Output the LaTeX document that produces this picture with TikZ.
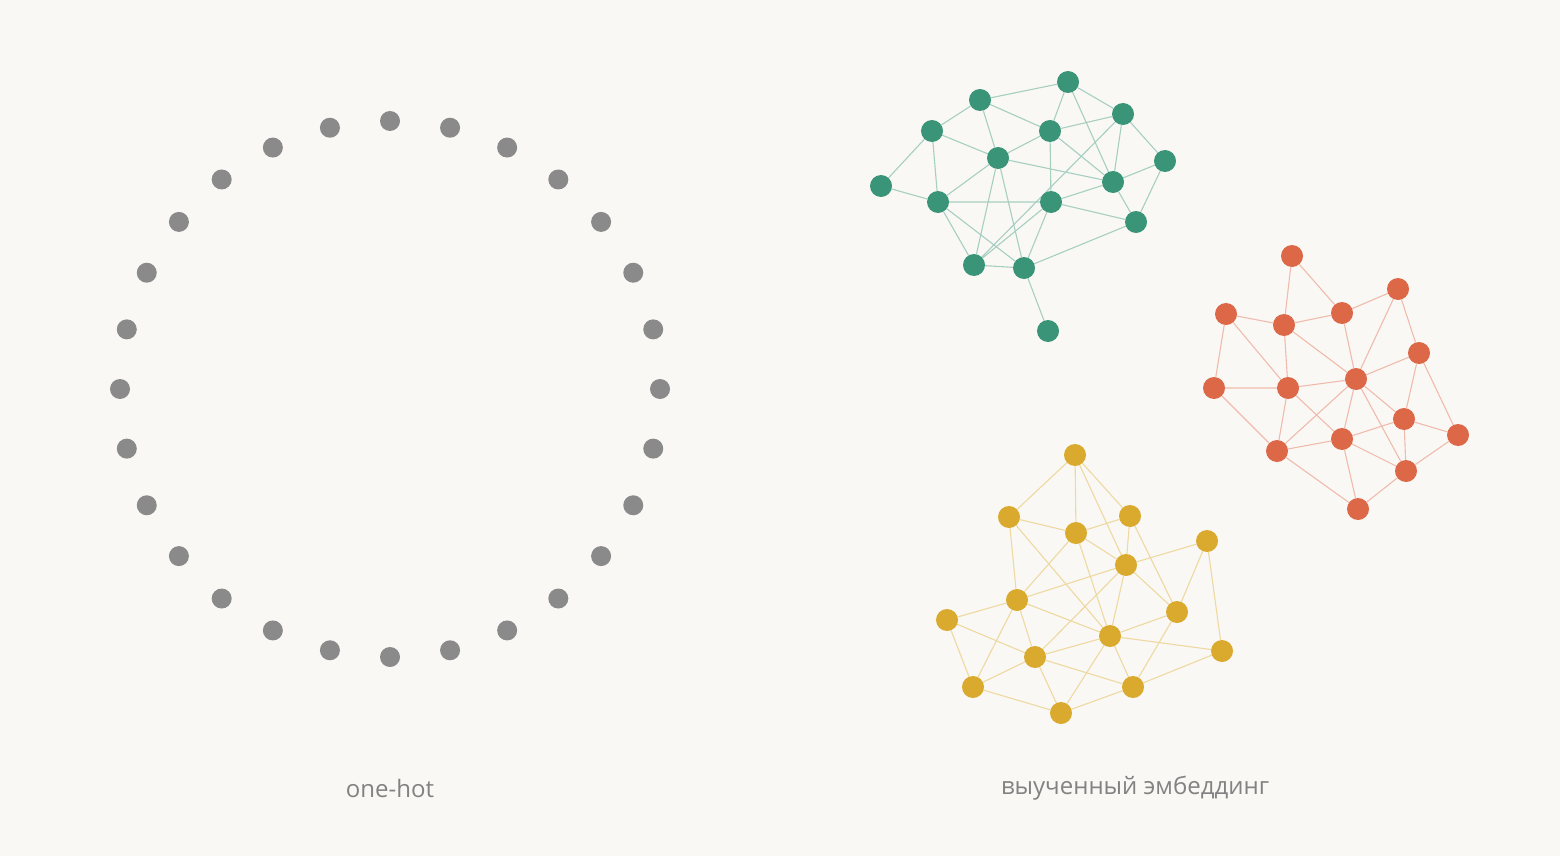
\documentclass[tikz,border=0pt]{standalone}
\usepackage{fontspec}
\setmainfont{Open Sans}
\usetikzlibrary{backgrounds}
\pgfdeclarelayer{edges}
\pgfsetlayers{background,edges,main}
\definecolor{paper}{RGB}{250,248,245}
\definecolor{dotgray}{RGB}{138,138,138}
\definecolor{capgray}{RGB}{130,130,130}
\definecolor{embgreen}{RGB}{58,148,120}
\definecolor{embred}{RGB}{221,104,72}
\definecolor{embgold}{RGB}{218,170,46}
\tikzset{
  hotdot/.style={circle,fill=dotgray,inner sep=0pt,minimum size=20pt},
  gnode/.style={circle,fill=embgreen,inner sep=0pt,minimum size=22pt},
  rnode/.style={circle,fill=embred,inner sep=0pt,minimum size=22pt},
  ynode/.style={circle,fill=embgold,inner sep=0pt,minimum size=22pt},
  gedge/.style={draw=embgreen!45,line width=1.1pt},
  redge/.style={draw=embred!45,line width=1.1pt},
  yedge/.style={draw=embgold!45,line width=1.1pt},
  caption/.style={text=capgray,font=\fontsize{24}{28}\selectfont},
}
\begin{document}
\begin{tikzpicture}[x=1pt,y=-1pt]
  \begin{pgfonlayer}{background}
    \fill [paper] (0,0) rectangle (1560,856);
  \end{pgfonlayer}
  \useasboundingbox (0,0) rectangle (1560,856);

  % one-hot ring
  \foreach \k in {0,...,27}
    \node (d\k) at ({390+270*sin(\k*360/28)},{389-268*cos(\k*360/28)}) [hotdot] {};
  \node (hotlabel) at (390,788) [caption] {one-hot};

  % green cluster
  \node (g1) at (1068,82) [gnode] {};
  \node (g2) at (980,100) [gnode] {};
  \node (g3) at (1123,114) [gnode] {};
  \node (g4) at (932,131) [gnode] {};
  \node (g5) at (1050,131) [gnode] {};
  \node (g6) at (998,158) [gnode] {};
  \node (g7) at (1165,161) [gnode] {};
  \node (g8) at (1113,182) [gnode] {};
  \node (g9) at (881,186) [gnode] {};
  \node (g10) at (938,202) [gnode] {};
  \node (g11) at (1051,202) [gnode] {};
  \node (g12) at (1136,222) [gnode] {};
  \node (g13) at (974,265) [gnode] {};
  \node (g14) at (1024,268) [gnode] {};
  \node (g15) at (1048,331) [gnode] {};

  % orange cluster
  \node (r1) at (1292,256) [rnode] {};
  \node (r2) at (1398,289) [rnode] {};
  \node (r3) at (1226,314) [rnode] {};
  \node (r4) at (1284,325) [rnode] {};
  \node (r5) at (1342,313) [rnode] {};
  \node (r6) at (1419,353) [rnode] {};
  \node (r7) at (1214,388) [rnode] {};
  \node (r8) at (1288,388) [rnode] {};
  \node (r9) at (1356,379) [rnode] {};
  \node (r10) at (1404,419) [rnode] {};
  \node (r11) at (1458,435) [rnode] {};
  \node (r12) at (1277,451) [rnode] {};
  \node (r13) at (1342,439) [rnode] {};
  \node (r14) at (1406,471) [rnode] {};
  \node (r15) at (1358,509) [rnode] {};

  % yellow cluster
  \node (y1) at (1075,455) [ynode] {};
  \node (y2) at (1009,517) [ynode] {};
  \node (y3) at (1130,516) [ynode] {};
  \node (y4) at (1076,533) [ynode] {};
  \node (y5) at (1207,541) [ynode] {};
  \node (y6) at (1126,565) [ynode] {};
  \node (y7) at (1017,600) [ynode] {};
  \node (y8) at (947,620) [ynode] {};
  \node (y9) at (1177,612) [ynode] {};
  \node (y10) at (1110,636) [ynode] {};
  \node (y11) at (1035,657) [ynode] {};
  \node (y12) at (1222,651) [ynode] {};
  \node (y13) at (973,687) [ynode] {};
  \node (y14) at (1133,687) [ynode] {};
  \node (y15) at (1061,713) [ynode] {};

  \node (emblabel) at (1135,788) [caption] {выученный эмбеддинг};

  \begin{pgfonlayer}{edges}
    \draw [gedge] (g2)--(g1)--(g3)--(g7)--(g12)--(g8)--(g3);
    \draw [gedge] (g1)--(g5) (g1)--(g8) (g2)--(g4)--(g9)--(g10)--(g4)--(g6)--(g2)--(g5);
    \draw [gedge] (g5)--(g3) (g5)--(g11) (g5)--(g8) (g5)--(g6)--(g10)--(g11)--(g8)--(g7);
    \draw [gedge] (g6)--(g8) (g6)--(g13) (g6)--(g14) (g10)--(g13)--(g14)--(g10);
    \draw [gedge] (g11)--(g14)--(g12)--(g11)--(g13) (g3)--(g13) (g14)--(g15);

    \draw [redge] (r3)--(r4)--(r1)--(r5)--(r2)--(r6)--(r11)--(r14)--(r15)--(r12)--(r7)--(r3)--(r8);
    \draw [redge] (r4)--(r5)--(r9)--(r2) (r4)--(r8)--(r7) (r4)--(r9) (r8)--(r9)--(r6)--(r10)--(r11);
    \draw [redge] (r8)--(r12)--(r13)--(r8) (r9)--(r13)--(r10)--(r9)--(r14)--(r10) (r13)--(r14) (r13)--(r15) (r12)--(r9);

    \draw [yedge] (y2)--(y1)--(y4)--(y3)--(y1)--(y6) (y2)--(y4)--(y6)--(y3)--(y9)--(y5)--(y6);
    \draw [yedge] (y2)--(y7)--(y8)--(y13)--(y15)--(y11)--(y13)--(y7)--(y11)--(y8) (y2)--(y10);
    \draw [yedge] (y4)--(y7)--(y6)--(y10)--(y4) (y6)--(y11) (y6)--(y9)--(y10)--(y7) (y5)--(y12)--(y14)--(y9);
    \draw [yedge] (y10)--(y11)--(y14)--(y10)--(y12) (y10)--(y15) (y14)--(y15);
  \end{pgfonlayer}
\end{tikzpicture}
\end{document}
